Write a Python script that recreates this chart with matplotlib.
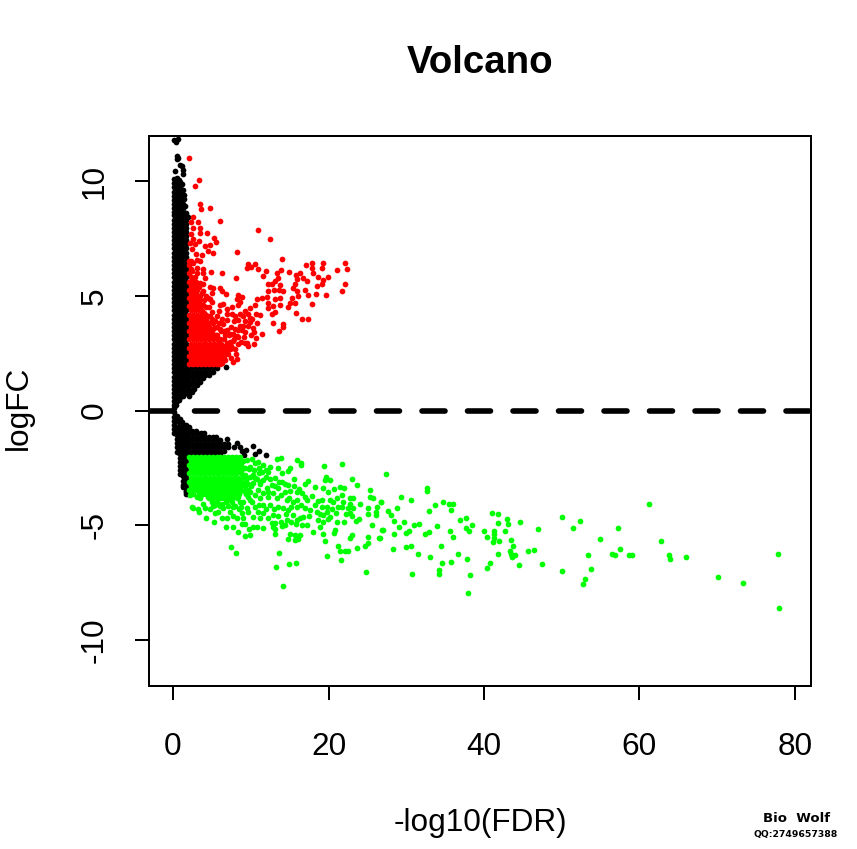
import matplotlib
matplotlib.use("Agg")
import matplotlib.pyplot as plt

plt.rcParams['font.family'] = ['Liberation Sans', 'DejaVu Sans']
plt.rcParams['lines.scale_dashes'] = False
plt.rcParams['axes.unicode_minus'] = False

TITLE = "Volcano"
XLABEL = "-log10(FDR)"
YLABEL = "logFC"
X_TICKS = [0, 20, 40, 60, 80]
Y_TICKS = [-10, -5, 0, 5, 10]
LOGFC_CUT = 0

# ---- black (not significant) ----
spine_x_a = [0.12, 0.92, 1.72]
spine_x_b = [0.52, 1.32]
spine_y_a = [8.5,8.32,8.14,7.96,7.78,7.6,7.42,7.24,7.06,6.88,6.7,6.52,6.34,6.16,5.98,5.8,5.62,5.44,5.26,5.08,4.9,4.72,4.54,4.36,4.18,4.0,3.82,3.64,3.46,3.28,3.1,2.92,2.74,2.56,2.38,2.2,2.02,1.84,1.66,1.48,1.3,1.12,0.94,0.76,
             -0.62,-0.8,-0.98,-1.16,-1.34,-1.52,-1.7,-1.88,-2.06,-2.24,-2.42,-2.6,-2.78,-2.96,-3.14,-3.32,-3.5,-3.62]
spine_y_b = [8.41,8.23,8.05,7.87,7.69,7.51,7.33,7.15,6.97,6.79,6.61,6.43,6.25,6.07,5.89,5.71,5.53,5.35,5.17,4.99,4.81,4.63,4.45,4.27,4.09,3.91,3.73,3.55,3.37,3.19,3.01,2.83,2.65,2.47,2.29,2.11,1.93,1.75,1.57,1.39,1.21,1.03,0.85,0.67,
             -0.71,-0.89,-1.07,-1.25,-1.43,-1.61,-1.79,-1.97,-2.15,-2.33,-2.51,-2.69,-2.87,-3.05,-3.23,-3.35]
black_pairs = [
 (0.13,11.8),(0.7,11.85),(0.35,11.7),(0.45,11.1),(0.6,11.0),(0.5,10.95),(0.9,10.7),(1.1,10.65),(1.25,10.5),(1.3,10.3),(0.3,10.45),
 (0.15,10.1),(0.45,10.15),(0.8,10.05),(0.15,9.9),(0.5,9.9),(0.85,9.95),(1.2,9.85),(0.12,9.72),(0.5,9.72),(0.9,9.72),(1.3,9.6),
 (0.12,9.54),(0.5,9.54),(0.9,9.54),(1.4,9.4),(0.12,9.36),(0.5,9.36),(0.9,9.36),(1.35,9.2),(0.12,9.18),(0.5,9.18),(0.9,9.18),
 (0.12,9.0),(0.5,9.0),(0.9,9.0),(1.3,9.0),(1.5,8.9),(0.12,8.82),(0.5,8.82),(0.9,8.82),(1.3,8.82),(0.12,8.66),(0.5,8.66),(0.9,8.66),(1.3,8.66),(1.7,8.6),(1.9,8.45),
 # funnel, upper side near zero
 (0.12,0.58),(0.52,0.58),(0.92,0.58),(1.32,0.62),(0.12,0.4),(0.52,0.42),(0.8,0.44),(0.12,0.24),(0.4,0.26),(0.1,0.1),
 # funnel, upper wedge
 (2.1,1.85),(2.6,1.85),(3.1,1.85),(3.6,1.85),(4.1,1.85),(4.6,1.85),(5.1,1.85),(5.6,1.85),(6.8,1.88),
 (2.1,1.7),(2.6,1.7),(3.1,1.7),(3.6,1.7),(4.1,1.7),(4.6,1.7),(5.2,1.7),
 (2.1,1.55),(2.6,1.55),(3.1,1.55),(3.6,1.55),(4.1,1.55),(4.6,1.55),
 (2.1,1.4),(2.6,1.4),(3.1,1.4),(3.6,1.4),(3.9,1.4),
 (2.1,1.25),(2.6,1.25),(3.1,1.25),(3.5,1.25),
 (2.1,1.1),(2.6,1.1),(3.1,1.1),(2.1,0.95),(2.7,0.95),(2.0,0.8),(2.4,0.8),(2.0,0.65),
 # funnel, lower side near zero
 (0.12,-0.08),(0.12,-0.26),(0.45,-0.24),(0.12,-0.44),(0.52,-0.44),(0.85,-0.36),(1.2,-0.5),(0.92,-0.53),
 # lower wedge
 (2.1,-0.72),(2.1,-0.87),(2.5,-0.87),(3.0,-0.87),(2.1,-1.0),(2.6,-1.0),(3.1,-1.0),(3.6,-1.0),(4.0,-1.0),
 (2.1,-1.15),(2.6,-1.15),(3.1,-1.15),(3.6,-1.15),(4.1,-1.15),(4.6,-1.15),(5.1,-1.15),(5.5,-1.15),
 (2.1,-1.3),(2.6,-1.3),(3.1,-1.3),(3.6,-1.3),(4.1,-1.3),(4.6,-1.3),(5.1,-1.3),(5.6,-1.3),(6.1,-1.3),(6.9,-1.24),
 (2.1,-1.45),(2.6,-1.45),(3.1,-1.45),(3.6,-1.45),(4.1,-1.45),(4.6,-1.45),(5.1,-1.45),(5.6,-1.45),(6.1,-1.45),(6.6,-1.45),(7.1,-1.45),(8.2,-1.42),
 (2.1,-1.6),(2.6,-1.6),(3.1,-1.6),(3.6,-1.6),(4.1,-1.6),(4.6,-1.6),(5.1,-1.6),(5.6,-1.6),(6.1,-1.6),(6.6,-1.6),(7.1,-1.6),(7.8,-1.6),(8.6,-1.6),(10.3,-1.55),
 (2.1,-1.75),(2.6,-1.75),(3.1,-1.75),(3.6,-1.75),(4.1,-1.75),(4.6,-1.75),(5.1,-1.75),(5.6,-1.75),(6.1,-1.75),(6.5,-1.75),(8.9,-1.78),(9.4,-1.72),(11.0,-1.75),
 (2.1,-1.9),(2.6,-1.9),(3.1,-1.9),(3.6,-1.9),(4.1,-1.9),(4.6,-1.9),(5.1,-1.9),(5.6,-1.9),(6.1,-1.9),(9.1,-1.92),(10.6,-1.88),(12.0,-1.95),
 (1.65,-3.55),(1.9,-3.62),
]

# ---- red (up) : sparse points estimated individually ----
red_pairs = [
 (2.06,11.02),(3.39,10.04),(2.79,9.77),(3.47,9.01),(3.6,8.79),(4.8,8.82),(6.0,8.24),(2.62,8.43),(2.27,8.21),(3.26,8.21),(3.47,7.97),(2.62,7.97),(2.3,7.68),(3.47,7.72),(4.42,7.75),(5.23,7.53),(5.53,7.34),(10.89,7.85),(12.48,7.47),(8.27,6.91),(2.62,7.46),(3.39,7.39),(2.19,7.31),(2.83,7.24),(4.1,7.17),(4.76,7.21),(4.54,6.95),(5.19,6.88),(3.69,6.76),(2.91,6.8),(2.4,7.02),
 (13.98,6.61),(9.69,6.37),(9.47,6.22),(10.55,6.37),(10.97,6.18),(9.99,6.25),(11.92,6.08),(11.53,5.85),(8.14,5.76),(6.26,6.0),(4.84,6.05),(3.9,6.15),(3.04,6.22),(2.62,6.44),(2.27,6.51),(2.4,6.08),(3.04,6.0),(4.1,5.79),(3.47,5.57),(2.62,5.72),(4.76,5.4),(5.19,5.35),(4.97,5.13),(6.04,5.32),(6.26,5.2),(6.77,5.07),(3.9,5.2),(2.62,5.2),(3.47,4.99),(4.76,4.84),(5.06,4.74),(6.47,4.65),(6.04,4.6),(5.96,4.33),(6.9,4.41),(8.4,5.02),(8.83,4.96),(8.27,4.84),(8.62,4.74),(8.4,4.6),(7.55,4.19),(8.62,4.22),(9.26,4.33),(9.9,4.48),(10.55,4.6),(10.76,4.84),(11.4,4.92),(12.05,4.94),(12.26,4.7),(11.19,4.16),(12.26,4.48),(13.12,4.84),(13.76,4.89),(12.9,4.55),(13.76,4.6),(13.12,4.31),(12.69,4.19),(12.9,3.83),(14.19,3.75),(14.1,3.65),(13.63,3.46),(11.4,3.32),(10.67,3.14),(10.42,2.88),(9.69,2.81),(10.33,3.61),(10.76,3.83),(9.69,3.68),(9.9,4.04),(9.26,3.9),(8.62,3.68),(7.97,3.54),(8.19,3.25),(7.33,3.32),(7.76,3.03),(8.4,2.88),(7.97,2.66),(8.27,2.26),(7.76,2.13),(7.33,2.66),(6.69,2.81),(6.47,2.37),(6.26,2.08),
 (12.26,5.5),(12.69,5.5),(13.33,6.0),(13.89,6.11),(14.96,6.05),(13.55,5.79),(13.12,5.64),(13.76,5.47),(12.26,5.2),(13.03,5.23),(13.63,5.25),(14.19,5.2),(15.78,5.89),(16.33,6.0),(16.76,5.79),(15.9,5.71),(17.19,5.64),(15.69,5.5),(15.39,5.32),(15.99,5.2),(16.98,5.25),(17.41,5.03),(18.35,5.06),(19.63,5.05),(18.48,5.42),(19.12,5.5),(19.33,5.69),(19.89,5.82),(18.69,5.83),(18.05,6.0),(17.06,6.32),(17.83,6.41),(19.25,6.41),(17.92,6.22),(19.21,6.21),(21.09,6.14),(22.17,6.44),(22.42,6.15),(22.12,5.51),(21.69,5.2),(17.92,4.63),(16.12,4.99),(15.26,4.92),(15.05,4.7),(15.69,4.7),(14.83,4.51),(15.82,4.26),(16.63,3.97),(17.41,3.97),
 (6.7,2.2),(7.1,2.45),(7.5,2.3),(6.9,2.95),(7.3,3.0),(6.6,3.1),(6.9,3.5),(7.4,3.65),(7.9,3.9),(8.3,3.5),(8.9,3.5),(9.1,3.2),(8.7,3.0),(9.3,2.95),(6.4,3.75),(6.9,3.95),(7.0,4.2),(5.4,3.9),(5.7,4.1),(6.3,4.0),(5.0,4.3),(4.6,4.5),(4.2,4.5),(4.5,4.9),(4.0,4.8),(3.7,5.1),(4.2,5.0),(3.3,5.4),(3.0,5.6),(3.9,5.5),(8.0,4.1),(9.0,4.1),(9.6,4.2),(10.2,4.0),(10.7,4.2),(10.0,3.3),(9.3,3.4),(9.5,2.95),(3.1,6.55),(3.5,6.5),(3.9,6.0),(9.9,3.85),(8.4,3.95),(10.4,3.4),(7.6,4.5),
 (6.8,2.55),(7.4,2.8),(7.0,2.75),(7.2,3.3),(7.7,3.35),(6.5,3.45),(6.0,3.55),(5.5,3.3),(5.9,3.8),(5.3,3.6),(4.9,3.85),(4.7,4.1),(4.2,4.0),(3.7,4.35),(4.0,4.25),(3.4,4.8),(3.8,4.6),(2.9,5.1),(7.9,3.1),(8.4,3.2),(8.1,2.45),(9.0,3.7),
]
# dense red body, row by row
red_rows = {
 2.02:[2.1,2.6,3.1,3.6,4.1,4.6,5.1,5.6,6.1],
 2.2:[2.3,2.8,3.3,3.8,4.3,4.8,5.3,5.8,6.4],
 2.38:[2.1,2.6,3.1,3.6,4.1,4.6,5.1,5.6,6.1,6.6],
 2.56:[2.3,2.8,3.3,3.8,4.3,4.8,5.3,5.8,6.3,7.0],
 2.74:[2.1,2.6,3.1,3.6,4.1,4.6,5.1,5.6,6.1,6.4,7.6],
 2.92:[2.3,2.8,3.3,3.8,4.3,4.8,5.3,5.8,6.2],
 3.1:[2.1,2.6,3.1,3.6,4.1,4.6,5.1,5.6,6.0],
 3.28:[2.3,2.8,3.3,3.8,4.3,4.8,5.3,5.6,6.7],
 3.46:[2.1,2.6,3.1,3.6,4.1,4.6,5.0,6.2],
 3.64:[2.3,2.8,3.3,3.8,4.3,4.6,5.6],
 3.82:[2.1,2.6,3.1,3.6,4.1,4.4,5.1],
 4.0:[2.3,2.8,3.3,3.9,5.0],
 4.18:[2.1,2.6,3.1,3.6,4.3],
 4.36:[2.3,2.8,3.3,3.6],
 4.54:[2.1,2.6,3.1,3.5],
 4.72:[2.3,2.8,3.3],
 4.9:[2.1,2.6,3.0],
 5.08:[2.3,2.8],
 5.26:[2.1,2.6,3.1],
 5.44:[2.3,2.8],
 5.62:[2.1,2.6],
 5.8:[2.3,2.8],
 5.98:[2.1],
 6.16:[2.3],
 6.34:[2.1],
 6.52:[2.1],
}

# ---- green (down) : sparse points estimated individually ----
green_pairs = [
 (27.35,-2.77),(26.7,-3.97),(29.36,-3.77),(30.6,-3.91),(32.66,-3.39),(32.66,-3.52),(27.65,-4.36),(28.08,-4.57),(28.85,-4.23),(28.38,-4.8),(29.66,-4.86),(29.11,-5.08),(26.92,-5.21),(29.96,-5.32),(30.35,-5.24),(30.99,-5.0),(31.68,-4.93),(28.42,-5.4),(26.62,-5.57),(32.36,-5.4),(32.92,-5.31),(33.91,-5.03),(32.96,-4.38),(33.74,-4.13),(34.68,-4.0),(35.45,-4.07),(35.97,-4.09),(35.71,-4.35),(36.91,-4.76),(37.72,-4.7),(38.45,-4.99),(37.72,-5.12),(38.07,-5.25),(35.58,-5.25),(35.97,-5.5),(28.25,-6.01),(29.92,-5.93),(30.6,-5.92),(31.46,-6.25),(33.09,-6.37),(34.51,-5.88),(34.64,-6.65),(35.71,-6.59),(36.61,-6.27),(37.77,-6.46),(30.69,-7.1),(34.17,-6.95),(34.25,-7.1),(38.19,-7.18),(37.94,-7.97),
 (40.0,-5.25),(41.02,-4.45),(41.75,-4.51),(41.75,-4.89),(42.98,-4.74),(43.08,-4.95),(44.67,-4.86),(42.7,-5.24),(41.28,-5.24),(41.32,-5.4),(40.34,-5.53),(41.32,-5.57),(41.2,-5.74),(41.97,-5.69),(43.51,-5.66),(43.73,-5.92),(43.38,-6.12),(41.75,-6.27),(43.42,-6.27),(43.94,-6.31),(43.6,-6.38),(45.65,-6.12),(46.38,-6.08),(44.54,-6.75),(40.81,-6.65),(40.34,-6.86),(47.5,-6.7),(46.94,-5.15),(49.98,-4.64),(52.3,-4.8),(51.4,-5.13),(54.87,-5.58),(57.19,-5.13),(61.26,-4.06),(62.76,-5.67),(53.33,-6.3),(57.49,-6.01),(56.5,-6.25),(56.8,-6.3),(58.69,-6.31),(59.07,-6.31),(63.79,-6.31),(63.92,-6.46),(65.97,-6.37),(49.98,-7.0),(53.76,-6.89),(53.03,-7.34),(52.73,-7.57),(70.13,-7.27),(73.35,-7.52),(77.85,-6.25),(77.98,-8.61),
 (13.33,-2.13),(13.85,-2.07),(15.95,-2.14),(16.5,-2.27),(16.42,-2.37),(19.38,-2.43),(21.69,-2.35),(22.98,-2.98),(23.7,-3.25),(19.72,-2.91),(20.19,-3.04),(19.55,-3.03),(17.32,-3.07),(16.98,-3.2),(15.56,-3.0),(15.05,-2.52),(14.75,-2.65),(14.06,-2.71),(13.55,-2.52),(12.47,-2.45),(12.26,-2.67),(13.12,-2.96),(13.98,-3.1),(14.83,-3.25),(14.4,-3.54),(15.9,-3.54),(16.98,-3.75),(17.83,-3.71),(18.26,-3.35),(19.33,-3.39),(19.98,-3.54),(20.7,-3.43),(21.48,-3.35),(22.03,-3.39),(21.69,-3.68),(21.05,-3.83),(19.12,-3.9),(20.19,-3.9),(22.76,-3.83),(23.19,-3.83),(25.38,-3.46),(25.34,-3.75),(25.76,-3.83),(26.71,-3.97),(24.05,-4.07),(21.91,-3.97),(22.76,-4.05),(21.69,-4.22),(22.55,-4.26),(23.19,-4.26),(22.76,-4.48),(25.04,-4.23),(26.19,-4.19),(26.11,-4.41),(25.04,-4.52),(26.11,-4.55),(20.96,-4.48),(19.76,-4.19),(19.76,-4.41),(18.9,-4.52),(19.33,-4.55),(20.19,-4.63),(18.69,-4.77),(19.33,-4.84),(19.98,-4.74),(21.05,-4.87),(21.99,-4.84),(23.96,-4.73),(23.54,-4.8),(25.55,-4.99),(26.96,-5.22),(26.54,-5.56),(25.08,-5.53),(25.12,-5.76),(24.69,-5.89),(23.62,-5.99),(22.76,-5.57),(23.06,-5.41),(22.55,-6.12),(22.12,-6.14),(21.48,-6.11),(21.18,-5.88),(21.56,-6.5),(19.76,-6.34),(24.82,-7.05),(19.59,-5.7),(19.33,-5.38),(18.9,-5.09),(20.83,-5.21),(20.75,-5.35),(18.05,-5.29),(17.28,-4.97),(16.55,-5.0),(15.78,-4.95),(14.4,-4.99),(13.98,-5.03),(13.89,-4.84),(13.12,-4.92),(12.69,-4.89),(12.82,-5.06),(13.12,-5.18),(13.16,-5.38),(15.05,-5.38),(14.83,-5.61),(15.69,-5.43),(16.38,-5.41),(16.12,-5.61),(15.69,-5.64),(13.63,-6.22),(14.96,-6.69),(15.82,-6.65),(13.2,-6.8),(14.19,-7.63),(11.62,-5.12),(10.85,-5.09),(10.25,-5.09),(9.77,-5.14),(9.26,-4.95),(8.83,-4.96),(8.32,-5.31),(7.67,-5.06),(6.82,-5.09),(9.9,-5.44),(9.3,-5.47),(7.46,-5.93),(8.06,-6.22),(5.32,-4.86),(4.24,-4.67),(3.34,-4.41),(2.4,-4.19),(2.53,-4.26),(3.26,-4.31),(3.9,-4.05),(5.4,-4.48),(6.26,-4.7),(7.33,-4.41),(6.47,-4.26),(7.76,-4.58),(8.53,-4.31),(9.05,-4.7),(10.33,-4.63),(11.62,-4.48),(12.9,-4.55),(14.19,-4.26),(14.83,-4.34),(15.48,-4.55),(16.33,-4.7),(16.76,-4.63),(17.62,-4.34),(18.26,-4.12),(16.98,-4.26),(15.9,-4.19),(13.55,-4.19),(12.47,-4.12),(11.62,-4.12),(10.55,-4.19),(9.47,-4.26),(9.9,-3.9),(11.19,-3.83),(12.26,-3.75),(13.33,-3.83),(14.62,-3.9),(15.9,-3.9),(12.05,-3.39),(10.97,-3.46),(9.9,-3.54),(10.33,-3.17),(11.62,-3.03),(12.69,-3.25),(13.55,-3.39),(9.9,-2.45),(10.97,-2.23),(11.62,-2.37),(11.4,-2.67),(10.33,-2.81),(9.26,-2.52),(9.47,-2.96),(8.83,-3.25),(8.4,-3.75),(7.33,-3.9),(6.26,-4.05),(5.4,-4.12),(4.54,-3.75),(3.04,-3.75),(2.19,-3.68),
 (9.5,-2.15),(10.2,-2.1),(10.6,-2.3),(11.0,-2.5),(11.9,-2.6),(10.8,-3.0),(12.0,-2.9),(12.5,-3.0),(11.2,-3.2),(12.2,-3.55),(13.1,-3.3),(13.6,-3.1),(14.4,-3.2),(15.0,-3.5),(15.5,-3.3),(16.2,-3.4),(16.6,-3.6),(14.9,-3.8),(15.4,-4.0),(13.9,-3.7),(12.8,-3.6),(11.6,-3.6),(10.6,-3.7),(10.1,-4.0),(11.0,-4.1),(12.0,-4.3),(13.0,-4.3),(13.5,-4.6),(14.5,-4.5),(15.2,-4.2),(16.4,-4.1),(17.2,-3.9),(17.5,-4.6),(18.5,-4.4),(19.1,-4.2),(18.6,-3.95),(20.6,-4.0),(20.4,-4.3),(21.2,-4.2),(22.2,-4.5),(23.0,-4.6),(9.7,-4.4),(10.9,-4.4),(11.2,-4.7),(12.2,-4.7),(8.9,-4.45),(8.2,-4.7),(7.0,-4.7),(5.8,-4.4),(4.7,-4.3),(4.1,-4.25),(9.1,-3.5),(9.6,-3.2),(9.2,-2.8),(9.9,-2.9),(10.4,-2.6),(9.6,-3.75),(9.0,-4.0),(8.7,-4.2),(7.7,-4.2),(16.0,-4.75),(15.2,-4.85),(14.7,-4.75),
]
# dense green body, row by row
green_rows = {
 -2.02:[2.1,2.6,3.1,3.6,4.1,4.6,5.1,5.6,6.1,6.6,7.1,7.6,8.1,8.6],
 -2.2:[2.3,2.8,3.3,3.8,4.3,4.8,5.3,5.8,6.3,6.8,7.3,7.8,8.3,9.0],
 -2.38:[2.1,2.6,3.1,3.6,4.1,4.6,5.1,5.6,6.1,6.6,7.1,7.6,8.1,8.7],
 -2.56:[2.3,2.8,3.3,3.8,4.3,4.8,5.3,5.8,6.3,6.8,7.3,7.8,8.3,8.9,9.8],
 -2.74:[2.1,2.6,3.1,3.6,4.1,4.6,5.1,5.6,6.1,6.6,7.1,7.6,8.1,8.7,11.0],
 -2.92:[2.3,2.8,3.3,3.8,4.3,4.8,5.3,5.8,6.3,6.8,7.3,7.8,8.3,8.9,10.6],
 -3.1:[2.1,2.6,3.1,3.6,4.1,4.6,5.1,5.6,6.1,6.6,7.1,7.6,8.1,8.7,9.4,11.2],
 -3.28:[2.3,2.8,3.3,3.8,4.3,4.8,5.3,5.8,6.3,6.8,7.3,7.8,8.3,9.2,10.0],
 -3.46:[2.1,2.6,3.1,3.6,4.1,4.6,5.1,5.6,6.1,6.6,7.1,7.6,8.1,8.8,9.6],
 -3.64:[2.6,3.3,3.8,4.3,4.8,5.3,5.8,6.3,6.8,7.3,7.8,8.5,9.4],
 -3.82:[3.5,4.6,5.1,5.6,6.1,6.6,7.1,7.6,8.2],
 -4.0:[5.0,5.6,6.8,7.6,8.6],
 -4.18:[5.1,6.0,7.1,8.0],
}

x_lim = (-3.09, 82.06)
y_lim = (-12.0, 11.96)

W, H = 857, 849
fig = plt.figure(figsize=(W/100, H/100), dpi=100, facecolor='white')
ax = fig.add_axes([149/W, 1-686/H, (811-149)/W, (686-136)/H])
ax.set_xlim(*x_lim)
ax.set_ylim(*y_lim)

MS = 17
bx = [p[0] for p in black_pairs]
by = [p[1] for p in black_pairs]
for y in spine_y_a:
    for x in spine_x_a:
        if y < 0 and x == 0.12 and y < -1.1:
            continue
        if y < -2.9 and x == 0.92:
            continue
        bx.append(x); by.append(y)
for y in spine_y_b:
    for x in spine_x_b:
        if y < -1.9 and x == 0.52:
            continue
        bx.append(x); by.append(y)
ax.scatter(bx, by, s=MS, c='black', linewidths=0, zorder=2)

rx = [p[0] for p in red_pairs]
ry = [p[1] for p in red_pairs]
for y, xs in red_rows.items():
    for x in xs:
        rx.append(x); ry.append(y)
ax.scatter(rx, ry, s=MS, c='#ff0000', linewidths=0, zorder=3)

gx = [p[0] for p in green_pairs]
gy = [p[1] for p in green_pairs]
for y, xs in green_rows.items():
    for x in xs:
        gx.append(x); gy.append(y)
ax.scatter(gx, gy, s=MS, c='#00ff00', linewidths=0, zorder=4)

px = 0.72
ax.axhline(LOGFC_CUT, color='black', lw=5.6*px, dash_capstyle='round',
           linestyle=(0, (23*px, 22.5*px)), zorder=5)

ax.set_xticks(X_TICKS)
ax.set_yticks(Y_TICKS)
ax.tick_params(axis='both', direction='out', length=14*px, width=2*px, labelsize=22.7, color='black')
ax.tick_params(axis='x', pad=23)
ax.tick_params(axis='y', pad=18.5)
for t in ax.get_yticklabels():
    t.set_rotation(90)
    t.set_va('center')
for s in ax.spines.values():
    s.set_linewidth(2*px)

fig.text(480/W, 1-63/H, TITLE, fontsize=27.6, fontweight='bold', ha='center', va='center')
fig.text(480/W, 1-823/H, XLABEL, fontsize=22.7, ha='center', va='center')
fig.text(19/W, 1-408/H, YLABEL, fontsize=22.7, rotation=90, ha='center', va='center')
fig.text(797/W, 1-819/H, "Bio  Wolf", fontsize=9.5, fontweight='bold', family='DejaVu Sans', ha='center', va='center')
fig.text(796/W, 1-835/H, "QQ:2749657388", fontsize=6.7, fontweight='bold', family='DejaVu Sans', ha='center', va='center')

fig.savefig('out.png', dpi=100)
